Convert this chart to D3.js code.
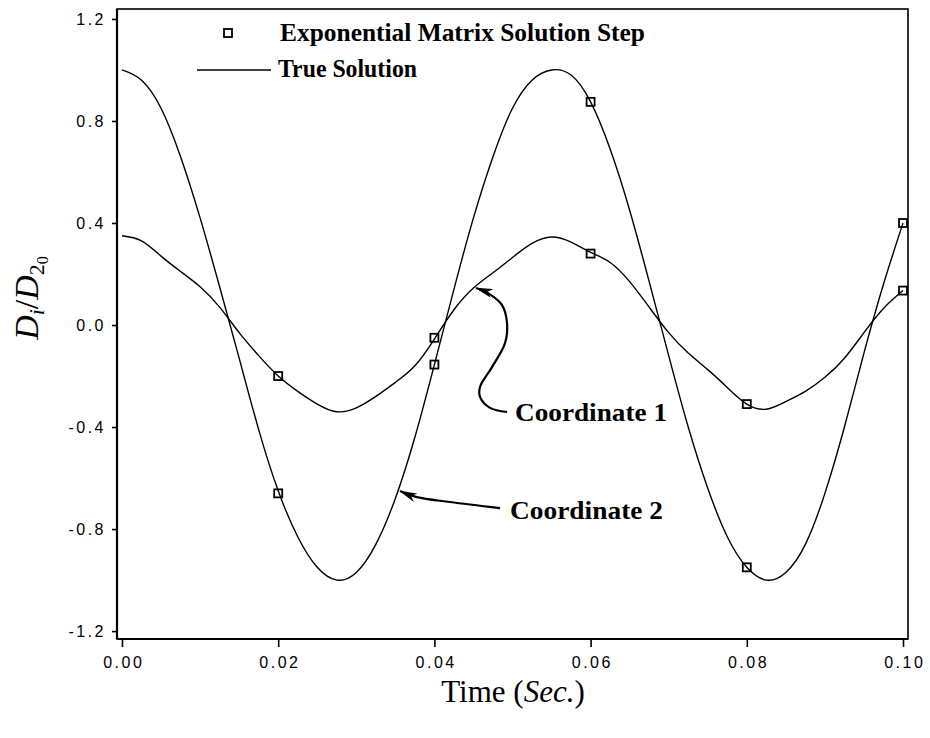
<!DOCTYPE html>
<html>
<head>
<meta charset="utf-8">
<script src="https://cdn.jsdelivr.net/npm/d3@7/dist/d3.min.js"></script>
<style>
  html, body { margin: 0; padding: 0; background: #fff; }
  svg { display: block; }
</style>
</head>
<body>
<svg id="chart" width="930" height="738"></svg>
<script>
// ---------------- data ----------------
const timeGrid = [0.0000,0.0025,0.0050,0.0075,0.0100,0.0125,0.0150,0.0175,0.0200,0.0225,
                  0.0250,0.0275,0.0300,0.0325,0.0350,0.0375,0.0400,0.0425,0.0450,0.0475,
                  0.0500,0.0525,0.0550,0.0575,0.0600,0.0625,0.0650,0.0675,0.0700,0.0725,
                  0.0750,0.0775,0.0800,0.0825,0.0850,0.0875,0.0900,0.0925,0.0950,0.0975,0.1000];
const trueCoord1 = [0.35,0.33,0.27,0.21,0.15,0.07,-0.03,-0.12,-0.20,-0.26,
                    -0.31,-0.34,-0.325,-0.28,-0.225,-0.16,-0.055,0.06,0.145,0.205,
                    0.265,0.32,0.345,0.325,0.285,0.245,0.17,0.07,-0.03,-0.11,
                    -0.175,-0.245,-0.31,-0.33,-0.30,-0.26,-0.205,-0.13,-0.03,0.065,0.135];
const trueCoord2 = [1.00,0.96,0.85,0.66,0.42,0.15,-0.13,-0.41,-0.65,-0.83,
                    -0.95,-1.00,-0.97,-0.86,-0.68,-0.44,-0.155,0.14,0.42,0.66,
                    0.85,0.96,1.00,0.98,0.875,0.69,0.45,0.17,-0.12,-0.40,
                    -0.64,-0.83,-0.95,-1.00,-0.97,-0.86,-0.66,-0.40,-0.11,0.16,0.40];
const stepTimes  = [0.02, 0.04, 0.06, 0.08, 0.10];
const stepCoord1 = [-0.20, -0.05, 0.28, -0.31, 0.135];
const stepCoord2 = [-0.66, -0.155, 0.875, -0.95, 0.40];
const xTicks = [0.00, 0.02, 0.04, 0.06, 0.08, 0.10];
const xTickLabels = ["0.00", "0.02", "0.04", "0.06", "0.08", "0.10"];
const yTicks = [1.2, 0.8, 0.4, 0.0, -0.4, -0.8, -1.2];
const yTickLabels = ["1.2", "0.8", "0.4", "0.0", "-0.4", "-0.8", "-1.2"];
const legendLabels = ["Exponential Matrix Solution Step", "True Solution"];
const annotationLabels = ["Coordinate 1", "Coordinate 2"];
// annotation arrow paths in data units (time, value)
const arrow1T = [0.0493,0.04712,0.04584,0.04584,0.04738,0.04904,0.0493,0.04866,0.04686,0.04533];
const arrow1V = [-0.341,-0.325,-0.282,-0.243,-0.165,-0.071,0.008,0.078,0.125,0.145];
const arrow2T = [0.0484,0.0420,0.03777,0.0356];
const arrow2V = [-0.718,-0.694,-0.675,-0.651];

// ---------------- layout ----------------
const svg = d3.select("#chart");
const frame = {left: 117, right: 908, top: 9, bottom: 639};
const x = d3.scaleLinear().domain([0, 0.1]).range([122, 903]);
const y = d3.scaleLinear().domain([-1.231, 1.239]).range([frame.bottom, frame.top]);

const serif = "'Liberation Serif', 'DejaVu Serif', serif";
const sans = "'Liberation Sans', Arial, sans-serif";

// frame
svg.append("rect")
  .attr("x", frame.left).attr("y", frame.top)
  .attr("width", frame.right - frame.left).attr("height", frame.bottom - frame.top)
  .attr("fill", "none").attr("stroke", "#000").attr("stroke-width", 1.6);

// axes
const xAxis = d3.axisBottom(x).tickValues(xTicks).tickSize(8).tickPadding(10)
  .tickFormat((d, i) => xTickLabels[i]);
const gx = svg.append("g").attr("transform", `translate(0,${frame.bottom})`).call(xAxis);
gx.select(".domain").attr("d", `M${frame.left},0H${frame.right}`).attr("stroke-width", 2.2);

const yAxis = d3.axisLeft(y).tickValues(yTicks).tickSize(5).tickPadding(6)
  .tickFormat((d, i) => yTickLabels[i]);
const gy = svg.append("g").attr("transform", `translate(${frame.left},0)`).call(yAxis);
gy.select(".domain").attr("d", `M0,${frame.top}V${frame.bottom}`).attr("stroke-width", 2.2);

[gx, gy].forEach(g => {
  g.selectAll(".tick line").attr("stroke", "#000").attr("stroke-width", 1.6);
  g.selectAll(".tick text").attr("fill", "#000")
    .style("font-family", sans).style("font-size", "16px").style("letter-spacing", "2.5px");
});
gx.selectAll(".tick text").attr("dx", "1.2px");

// curves
const line = d3.line()
  .x((d, i) => x(timeGrid[i]))
  .y(d => y(d))
  .curve(d3.curveNatural);
[trueCoord1, trueCoord2].forEach(series => {
  svg.append("path").datum(series)
    .attr("d", line)
    .attr("fill", "none").attr("stroke", "#000").attr("stroke-width", 1.4);
});

// step markers
const sq = 8;
[stepCoord1, stepCoord2].forEach(series => {
  svg.append("g").selectAll("rect").data(series).join("rect")
    .attr("x", (d, i) => x(stepTimes[i]) - sq / 2)
    .attr("y", d => y(d) - sq / 2)
    .attr("width", sq).attr("height", sq)
    .attr("fill", "none").attr("stroke", "#000").attr("stroke-width", 1.8);
});

// legend
svg.append("rect").attr("x", 224).attr("y", 29).attr("width", sq).attr("height", sq)
  .attr("fill", "none").attr("stroke", "#000").attr("stroke-width", 1.8);
svg.append("text").attr("x", 280).attr("y", 41)
  .attr("textLength", 365).attr("lengthAdjust", "spacingAndGlyphs")
  .style("font-family", serif).style("font-weight", "bold").style("font-size", "25px")
  .text(legendLabels[0]);
svg.append("line").attr("x1", 197).attr("x2", 271).attr("y1", 70).attr("y2", 70)
  .attr("stroke", "#000").attr("stroke-width", 1.6);
svg.append("text").attr("x", 278).attr("y", 77)
  .attr("textLength", 139).attr("lengthAdjust", "spacingAndGlyphs")
  .style("font-family", serif).style("font-weight", "bold").style("font-size", "25px")
  .text(legendLabels[1]);

// arrowhead marker
const defs = svg.append("defs");
defs.append("marker").attr("id", "ah")
  .attr("viewBox", "0 0 18 9").attr("refX", 17).attr("refY", 4.5)
  .attr("markerWidth", 18).attr("markerHeight", 9)
  .attr("markerUnits", "userSpaceOnUse").attr("orient", "auto")
  .append("path").attr("d", "M0,0 L18,4.5 L0,9 L5,4.5 Z").attr("fill", "#000");

const arrowLine = d3.line().curve(d3.curveCatmullRom.alpha(0.5));
svg.append("path")
  .attr("d", arrowLine(arrow1T.map((t, i) => [x(t), y(arrow1V[i])])))
  .attr("fill", "none").attr("stroke", "#000").attr("stroke-width", 2.2)
  .attr("marker-end", "url(#ah)");
svg.append("path")
  .attr("d", arrowLine(arrow2T.map((t, i) => [x(t), y(arrow2V[i])])))
  .attr("fill", "none").attr("stroke", "#000").attr("stroke-width", 2.2)
  .attr("marker-end", "url(#ah)");

// annotation labels
svg.append("text").attr("x", 515).attr("y", 421)
  .attr("textLength", 152).attr("lengthAdjust", "spacingAndGlyphs")
  .style("font-family", serif).style("font-weight", "bold").style("font-size", "25px")
  .text(annotationLabels[0]);
svg.append("text").attr("x", 510).attr("y", 519)
  .attr("textLength", 153).attr("lengthAdjust", "spacingAndGlyphs")
  .style("font-family", serif).style("font-weight", "bold").style("font-size", "25px")
  .text(annotationLabels[1]);

// x axis title
const xt = svg.append("text").attr("x", 513).attr("y", 702).attr("text-anchor", "middle")
  .style("font-family", serif).style("font-size", "31px");
xt.append("tspan").text("Time (");
xt.append("tspan").style("font-style", "italic").text("Sec.");
xt.append("tspan").text(")");

// y axis title
const yt = svg.append("text")
  .attr("transform", "translate(38,298) rotate(-90)")
  .attr("text-anchor", "middle")
  .style("font-family", serif).style("font-style", "italic").style("font-size", "34px");
yt.append("tspan").text("D");
yt.append("tspan").attr("dy", 6).style("font-size", "22px").text("i");
yt.append("tspan").attr("dy", -6).style("font-style", "normal").text("/");
yt.append("tspan").text("D");
yt.append("tspan").attr("dy", 6).style("font-size", "22px").style("font-style", "normal").text("2");
yt.append("tspan").attr("dy", 4).style("font-size", "16px").style("font-style", "normal").text("0");
</script>
</body>
</html>
